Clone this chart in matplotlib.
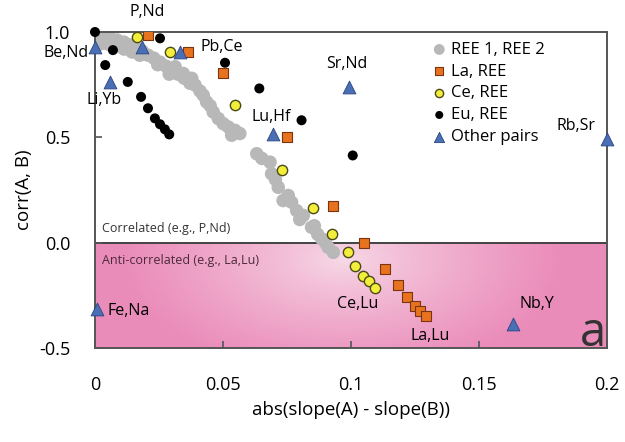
import matplotlib
matplotlib.use("Agg")
import matplotlib.pyplot as plt
import numpy as np

plt.rcParams['font.family'] = ['Open Sans', 'DejaVu Sans']

# REE 1, REE 2 pairs
ree_x = [0.0008, 0.0031, 0.0059, 0.0086, 0.0113, 0.0137, 0.016, 0.0184, 0.0207, 0.023,
         0.0254, 0.0277, 0.0301, 0.0324, 0.0348, 0.0371, 0.002, 0.0051, 0.0082, 0.0113,
         0.0145, 0.0313, 0.0345, 0.0378, 0.0391, 0.0423, 0.0436, 0.0462, 0.0482, 0.0501,
         0.0521, 0.0547, 0.0566, 0.0534, 0.0632, 0.0684, 0.069, 0.0716, 0.0755, 0.0768,
         0.0788, 0.0814, 0.0846, 0.0886, 0.0911, 0.0931, 0.0652, 0.0705, 0.0735, 0.0857,
         0.0175, 0.0245, 0.0290, 0.0410, 0.0450, 0.0800, 0.0870, 0.0900]
ree_y = [0.990, 0.981, 0.971, 0.962, 0.952, 0.938, 0.924, 0.910, 0.890, 0.876,
         0.857, 0.838, 0.819, 0.800, 0.781, 0.757, 0.943, 0.943, 0.933, 0.919,
         0.905, 0.835, 0.803, 0.780, 0.748, 0.700, 0.668, 0.620, 0.589, 0.565,
         0.549, 0.533, 0.518, 0.510, 0.422, 0.382, 0.327, 0.263, 0.224, 0.192,
         0.152, 0.129, 0.073, 0.018, -0.022, -0.046, 0.40, 0.30, 0.20, 0.08,
         0.890, 0.845, 0.800, 0.720, 0.650, 0.110, 0.040, 0.000]

# La, REE
la_x = [0.0208, 0.0365, 0.0499, 0.0751, 0.0931, 0.1052, 0.1133, 0.1185, 0.122, 0.125, 0.127, 0.1293]
la_y = [0.986, 0.906, 0.806, 0.501, 0.176, 0.0, -0.125, -0.201, -0.257, -0.300, -0.324, -0.348]

# Ce, REE
ce_x = [0.0163, 0.0293, 0.0547, 0.0729, 0.085, 0.0927, 0.0987, 0.1016, 0.1046, 0.1072, 0.1094]
ce_y = [0.978, 0.906, 0.652, 0.343, 0.165, 0.041, -0.046, -0.110, -0.157, -0.184, -0.213]

# Eu, REE
eu_x = [0.0, 0.007, 0.004, 0.0128, 0.018, 0.0207, 0.0234, 0.0254, 0.0273, 0.029,
        0.0254, 0.0508, 0.0642, 0.0807, 0.1007]
eu_y = [1.0, 0.914, 0.843, 0.763, 0.692, 0.638, 0.590, 0.562, 0.538, 0.514,
        0.970, 0.854, 0.732, 0.581, 0.414]

# Other pairs
other_names = ["Be,Nd", "Li,Yb", "P,Nd", "Pb,Ce", "Lu,Hf", "Sr,Nd", "Rb,Sr", "Fe,Na", "Nb,Y"]
other_x = [0.0, 0.0059, 0.0182, 0.0332, 0.0697, 0.0992, 0.2, 0.0007, 0.1634]
other_y = [0.93, 0.763, 0.93, 0.906, 0.515, 0.737, 0.494, -0.316, -0.387]

fig = plt.figure(figsize=(6.25, 4.42), dpi=100)
ax = fig.add_axes([0.152, 0.2127, 0.819, 0.7149])
ax.set_xlim(0, 0.2)
ax.set_ylim(-0.5, 1.0)

# pink band for the anti-correlated half, lighter around the middle
gx, gy = np.meshgrid(np.linspace(0, 0.2, 300), np.linspace(-0.5, 0, 120))
d = np.sqrt(((gx - 0.097) / 0.085) ** 2 + ((gy + 0.08) / 0.55) ** 2)
d = np.clip(d, 0, 1) ** 0.8
light = np.array([0.97, 0.86, 0.91])
pink = np.array([0.92, 0.55, 0.73])
img = light[None, None, :] * (1 - d[..., None]) + pink[None, None, :] * d[..., None]
ax.imshow(img, extent=[0, 0.2, -0.5, 0], origin='lower', aspect='auto', zorder=0)
ax.axhline(0, color='#444444', lw=1.4, zorder=1)

h_ree = ax.scatter(ree_x, ree_y, s=95, c='#b8b8b8', edgecolors='none', zorder=2, label='REE 1, REE 2')
h_eu = ax.scatter(eu_x, eu_y, s=52, c='black', edgecolors='none', zorder=3, clip_on=False, label='Eu, REE')
h_la = ax.scatter(la_x, la_y, s=42, marker='s', c='#e8731f', edgecolors='#7a3510', linewidths=0.8,
                  zorder=4, label='La, REE')
h_ce = ax.scatter(ce_x, ce_y, s=55, c='#f2ee3a', edgecolors='#4a4a18', linewidths=1.0, zorder=4,
                  label='Ce, REE')
h_ot = ax.scatter(other_x, other_y, s=85, marker='^', c='#4a6fb5', edgecolors='#2a4580', linewidths=0.6,
                  zorder=5, clip_on=False, label='Other pairs')

# pair labels
fs = 11.5
ax.text(0.0203, 1.095, "P,Nd", ha='center', va='center', fontsize=fs, clip_on=False)
ax.text(-0.0025, 0.90, "Be,Nd", ha='right', va='center', fontsize=fs, clip_on=False)
ax.text(0.0035, 0.676, "Li,Yb", ha='center', va='center', fontsize=fs)
ax.text(0.0496, 0.929, "Pb,Ce", ha='center', va='center', fontsize=fs)
ax.text(0.0688, 0.595, "Lu,Hf", ha='center', va='center', fontsize=fs)
ax.text(0.0985, 0.848, "Sr,Nd", ha='center', va='center', fontsize=fs)
ax.text(0.188, 0.552, "Rb,Sr", ha='center', va='center', fontsize=fs)
ax.text(0.0047, -0.324, "Fe,Na", ha='left', va='center', fontsize=fs)
ax.text(0.1025, -0.292, "Ce,Lu", ha='center', va='center', fontsize=fs)
ax.text(0.131, -0.445, "La,Lu", ha='center', va='center', fontsize=fs)
ax.text(0.1727, -0.29, "Nb,Y", ha='center', va='center', fontsize=fs)

ax.text(0.0027, 0.067, "Correlated (e.g., P,Nd)", ha='left', va='center', fontsize=9, color='#333333')
ax.text(0.0027, -0.086, "Anti-correlated (e.g., La,Lu)", ha='left', va='center', fontsize=9,
        color='#4a2a3a')
ax.text(0.1945, -0.43, "a", ha='center', va='center', fontsize=34, color='#333333')

ax.set_xticks([0, 0.05, 0.1, 0.15, 0.2])
ax.set_xticklabels(["0", "0.05", "0.1", "0.15", "0.2"])
ax.set_yticks([-0.5, 0.0, 0.5, 1.0])
ax.set_yticklabels(["-0.5", "0.0", "0.5", "1.0"])
ax.tick_params(direction='in', length=5, width=1.2, color='#555555', labelsize=13)
ax.tick_params(axis='x', pad=20)
ax.tick_params(axis='y', pad=18)
for sp in ax.spines.values():
    sp.set_color('#555555')
    sp.set_linewidth(1.4)

ax.set_xlabel("abs(slope(A) - slope(B))", fontsize=13.5, labelpad=5)
ax.set_ylabel("corr(A, B)", fontsize=13.5, labelpad=4)

ax.legend(handles=[h_ree, h_la, h_ce, h_eu, h_ot], loc='upper left', bbox_to_anchor=(0.64, 0.99),
          frameon=False, fontsize=12, handletextpad=0.1, labelspacing=0.35, borderaxespad=0,
          handlelength=1.2, markerscale=0.8)

fig.savefig("out.png", dpi=100)
